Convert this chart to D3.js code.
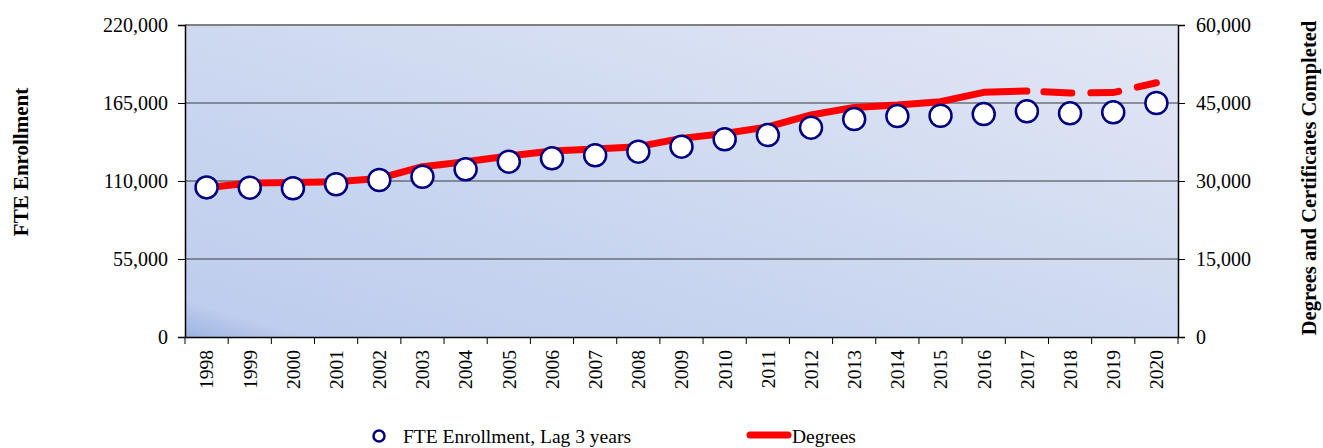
<!DOCTYPE html>
<html>
<head>
<meta charset="utf-8">
<script src="https://cdn.jsdelivr.net/npm/d3@7"></script>
<style>
  body { margin: 0; background: #fff; }
  svg text { font-family: "Liberation Serif", "Times New Roman", serif; fill: #000; }
</style>
</head>
<body>
<svg id="chart" width="1323" height="448"></svg>
<script>
// Data
const years = ["1998","1999","2000","2001","2002","2003","2004","2005","2006","2007","2008",
  "2009","2010","2011","2012","2013","2014","2015","2016","2017","2018","2019","2020"];
// FTE Enrollment, lagged 3 years (left axis)
const enrollment = [105500, 105300, 104900, 107700, 110700, 113000, 118200, 123600, 126000, 128100, 130700,
  134200, 139400, 142400, 147600, 153700, 155800, 156000, 157200, 159100, 157700, 158400, 165000];
// Degrees and certificates completed (right axis)
const degrees = [28700, 29600, 29700, 29850, 30500, 32750, 33700, 34800, 35750, 36150, 36600,
  38200, 39150, 40400, 42700, 44150, 44600, 45250, 47050, 47300, 46900, 47000, 48900];
const leftTicks = [0, 55000, 110000, 165000, 220000];
const rightTicks = [0, 15000, 30000, 45000, 60000];
const projectedFrom = "2017"; // dashed from here on

const svg = d3.select("#chart");
const margin = { top: 25, right: 145, bottom: 111, left: 185 };
const width = 1323 - margin.left - margin.right;
const height = 448 - margin.top - margin.bottom;
const g = svg.append("g").attr("transform", `translate(${margin.left},${margin.top})`);

const x = d3.scaleBand().domain(years).range([0, width]).padding(0);
const yL = d3.scaleLinear().domain([0, 220000]).range([height, 0]);
const yR = d3.scaleLinear().domain([0, 60000]).range([height, 0]);

// plot background
const defs = svg.append("defs");
const grad = defs.append("linearGradient").attr("id", "bg")
  .attr("x1", 0).attr("y1", 1).attr("x2", 1).attr("y2", 0);
grad.append("stop").attr("offset", "0%").attr("stop-color", "#9cb4e2");
grad.append("stop").attr("offset", "6%").attr("stop-color", "#bfcdee");
grad.append("stop").attr("offset", "45%").attr("stop-color", "#ccd8f0");
grad.append("stop").attr("offset", "100%").attr("stop-color", "#e3e7f5");
g.append("rect").attr("width", width).attr("height", height).attr("fill", "url(#bg)");

// gridlines
g.append("g").selectAll("line")
  .data(leftTicks.filter(d => d > 0 && d < 220000))
  .join("line")
  .attr("x1", 0).attr("x2", width)
  .attr("y1", d => yL(d)).attr("y2", d => yL(d))
  .attr("stroke", "#3a3a3a").attr("stroke-width", 1);

// top border
g.append("line").attr("x1", 0).attr("x2", width).attr("y1", 0).attr("y2", 0)
  .attr("stroke", "#808080").attr("stroke-width", 2);

// left axis
const axL = g.append("g")
  .call(d3.axisLeft(yL).tickValues(leftTicks).tickFormat(d3.format(",")).tickSize(7).tickPadding(10));
// right axis
const axR = g.append("g").attr("transform", `translate(${width},0)`)
  .call(d3.axisRight(yR).tickValues(rightTicks).tickFormat(d3.format(",")).tickSize(7).tickPadding(11));
// bottom axis
const axB = g.append("g").attr("transform", `translate(0,${height})`)
  .call(d3.axisBottom(x).tickSize(0));
axB.selectAll("text")
  .attr("transform", "rotate(-90)")
  .attr("x", -13).attr("y", 0).attr("dy", "0.35em")
  .style("text-anchor", "end");
// category separators below the axis
axB.append("g").selectAll("line")
  .data(years.map(d => x(d)).concat([width]))
  .join("line")
  .attr("x1", d => d).attr("x2", d => d)
  .attr("y1", 0).attr("y2", 7)
  .attr("stroke", "#000");

[axL, axR].forEach(a => a.selectAll("text").style("font-size", "20px"));
axB.selectAll("text").style("font-size", "19.5px");
[axL, axR, axB].forEach(a => {
  a.selectAll("text").style("font-family", "'Liberation Serif', serif").attr("fill", "#000");
  a.select(".domain").attr("stroke", "#000").attr("stroke-width", 1.5);
  a.selectAll(".tick line").attr("stroke", "#000");
});

// degrees line: solid up to projectedFrom, dashed afterwards
const line = d3.line()
  .x(d => x(d.year) + x.bandwidth() / 2)
  .y(d => yR(d.value));
const degData = years.map((year, i) => ({ year, value: degrees[i] }));
const cut = years.indexOf(projectedFrom);

g.append("path")
  .datum(degData.slice(0, cut + 1))
  .attr("fill", "none").attr("stroke", "#ff0000").attr("stroke-width", 7)
  .attr("stroke-linejoin", "round").attr("stroke-linecap", "round")
  .attr("d", line);
g.append("path")
  .datum(degData.slice(cut))
  .attr("fill", "none").attr("stroke", "#ff0000").attr("stroke-width", 7)
  .attr("stroke-linecap", "round").attr("stroke-dasharray", "28,19")
  .attr("stroke-dashoffset", -17)
  .attr("d", line);

// enrollment markers
g.append("g").selectAll("circle")
  .data(years.map((year, i) => ({ year, value: enrollment[i] })))
  .join("circle")
  .attr("cx", d => x(d.year) + x.bandwidth() / 2)
  .attr("cy", d => yL(d.value))
  .attr("r", 11)
  .attr("fill", "#fff").attr("stroke", "#000080").attr("stroke-width", 2.5);

// axis titles
svg.append("text")
  .attr("transform", "translate(28,162) rotate(-90)")
  .attr("text-anchor", "middle")
  .style("font-size", "21px").style("font-weight", "bold")
  .text("FTE Enrollment");
svg.append("text")
  .attr("transform", "translate(1316,178) rotate(-90)")
  .attr("text-anchor", "middle")
  .style("font-size", "20.5px").style("font-weight", "bold")
  .text("Degrees and Certificates Completed");

// legend
const legend = svg.append("g");
legend.append("circle").attr("cx", 379).attr("cy", 436).attr("r", 5.5)
  .attr("fill", "#fff").attr("stroke", "#000080").attr("stroke-width", 2.5);
legend.append("text").attr("x", 403).attr("y", 443).style("font-size", "19.5px")
  .text("FTE Enrollment, Lag 3 years");
legend.append("line").attr("x1", 750).attr("x2", 788).attr("y1", 435).attr("y2", 435)
  .attr("stroke", "#ff0000").attr("stroke-width", 7).attr("stroke-linecap", "round");
legend.append("text").attr("x", 792).attr("y", 443).style("font-size", "19.5px")
  .text("Degrees");
</script>
</body>
</html>
